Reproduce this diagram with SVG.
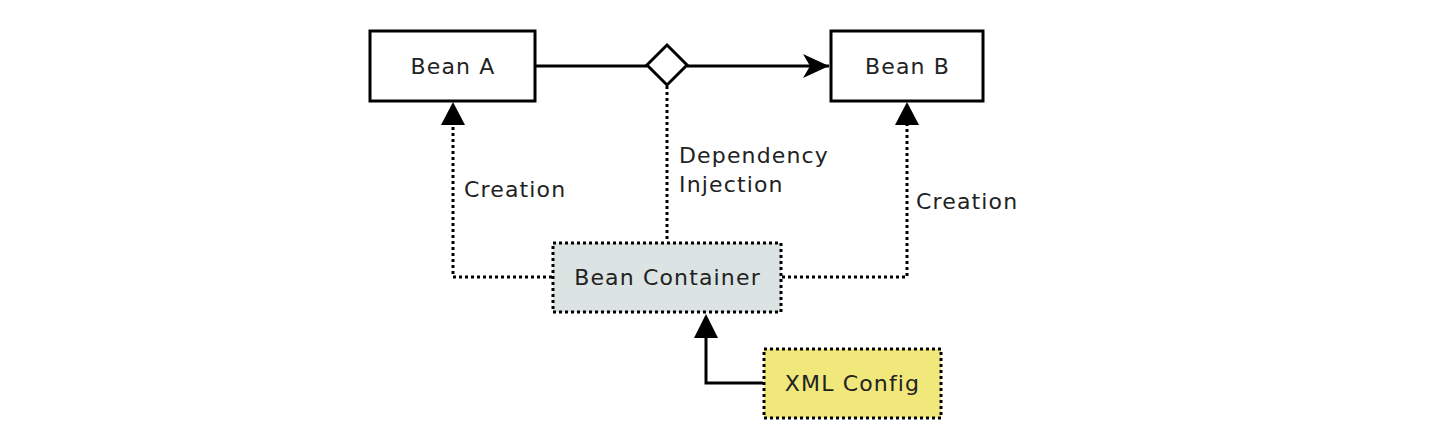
<svg xmlns="http://www.w3.org/2000/svg" width="1456" height="448" viewBox="0 0 1456 448">
<defs>
<style>
text{font-family:"DejaVu Sans",sans-serif;font-size:22px;fill:#222;letter-spacing:1.15px}
.box{stroke:#000;stroke-width:3}
.dot{fill:none;stroke:#000;stroke-width:3;stroke-dasharray:3 3}
.solid{fill:none;stroke:#000;stroke-width:3}
</style>
<marker id="barb" viewBox="0 0 26 24" refX="26" refY="12" markerWidth="26" markerHeight="24" markerUnits="userSpaceOnUse" orient="auto">
<path d="M0,0 L26,12 L0,24 L7,12 z" fill="#000"/>
</marker>
</defs>
<rect width="1456" height="448" fill="#fff"/>
<g id="connectors">
<path class="solid" d="M535,66 H647"/>
<path class="solid" d="M687,66 H829" marker-end="url(#barb)"/>
<path class="dot" d="M667,86 V241"/>
<path class="dot" d="M552,277 H453 V125"/>
<path d="M441,125 L453,102 L465,125 z" fill="#000"/>
<path class="dot" d="M782,277 H907 V125"/>
<path d="M895,125 L907,102 L919,125 z" fill="#000"/>
<path class="solid" d="M763,383 H706 V338"/>
<path d="M694,338 L706,314 L718,338 z" fill="#000"/>
</g>
<g id="diamond">
<path d="M667,45 L687,65 L667,85 L647,65 z" fill="#fff" stroke="#000" stroke-width="3"/>
</g>
<g id="beanA">
<rect class="box" x="370" y="31" width="165" height="70" fill="#fff"/>
<text x="453" y="74" text-anchor="middle">Bean A</text>
</g>
<g id="beanB">
<rect class="box" x="831" y="31" width="152" height="70" fill="#fff"/>
<text x="907.5" y="74" text-anchor="middle">Bean B</text>
</g>
<g id="container">
<rect x="553" y="243" width="228" height="69" fill="#dce3e3" stroke="#000" stroke-width="3" stroke-dasharray="3 3"/>
<text x="667.5" y="285" text-anchor="middle">Bean Container</text>
</g>
<g id="xml">
<rect x="764" y="349" width="177" height="69" fill="#f0e87a" stroke="#000" stroke-width="3" stroke-dasharray="3 3"/>
<text x="852.5" y="391" text-anchor="middle">XML Config</text>
</g>
<g id="labels">
<text x="464" y="197">Creation</text>
<text x="916" y="209">Creation</text>
<text x="679" y="163">Dependency</text>
<text x="679" y="192">Injection</text>
</g>
</svg>
